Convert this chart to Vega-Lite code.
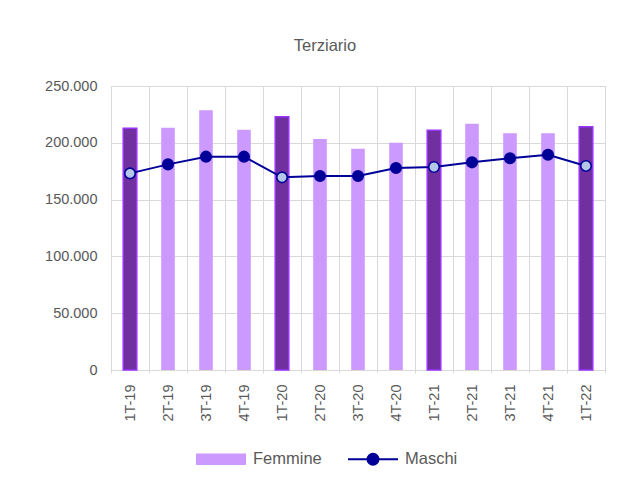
{
  "$schema": "https://vega.github.io/schema/vega-lite/v6.json",
  "width": 494,
  "height": 284,
  "autosize": "none",
  "padding": {"left": 111, "top": 86, "right": 30, "bottom": 127},
  "background": "white",
  "title": {
    "text": "Terziario",
    "font": "Liberation Sans",
    "fontSize": 16.5,
    "fontWeight": "normal",
    "color": "#595959",
    "anchor": "middle",
    "frame": "group",
    "dx": -33,
    "offset": 24
  },
  "config": {
    "font": "Liberation Sans",
    "view": {"stroke": "#D9D9D9", "strokeWidth": 1}
  },
  "data": {
    "values": [
      {"q": "1T-19", "serie": "Femmine", "v": 212700, "first": true},
      {"q": "2T-19", "serie": "Femmine", "v": 213300, "first": false},
      {"q": "3T-19", "serie": "Femmine", "v": 228600, "first": false},
      {"q": "4T-19", "serie": "Femmine", "v": 211500, "first": false},
      {"q": "1T-20", "serie": "Femmine", "v": 223000, "first": true},
      {"q": "2T-20", "serie": "Femmine", "v": 203300, "first": false},
      {"q": "3T-20", "serie": "Femmine", "v": 194800, "first": false},
      {"q": "4T-20", "serie": "Femmine", "v": 200100, "first": false},
      {"q": "1T-21", "serie": "Femmine", "v": 211000, "first": true},
      {"q": "2T-21", "serie": "Femmine", "v": 216800, "first": false},
      {"q": "3T-21", "serie": "Femmine", "v": 208400, "first": false},
      {"q": "4T-21", "serie": "Femmine", "v": 208400, "first": false},
      {"q": "1T-22", "serie": "Femmine", "v": 214200, "first": true},
      {"q": "1T-19", "serie": "Maschi", "v": 173100, "first": true},
      {"q": "2T-19", "serie": "Maschi", "v": 181000, "first": false},
      {"q": "3T-19", "serie": "Maschi", "v": 187800, "first": false},
      {"q": "4T-19", "serie": "Maschi", "v": 187800, "first": false},
      {"q": "1T-20", "serie": "Maschi", "v": 169600, "first": true},
      {"q": "2T-20", "serie": "Maschi", "v": 170800, "first": false},
      {"q": "3T-20", "serie": "Maschi", "v": 170800, "first": false},
      {"q": "4T-20", "serie": "Maschi", "v": 177800, "first": false},
      {"q": "1T-21", "serie": "Maschi", "v": 178700, "first": true},
      {"q": "2T-21", "serie": "Maschi", "v": 182800, "first": false},
      {"q": "3T-21", "serie": "Maschi", "v": 186400, "first": false},
      {"q": "4T-21", "serie": "Maschi", "v": 189500, "first": false},
      {"q": "1T-22", "serie": "Maschi", "v": 179600, "first": true}
    ]
  },
  "encoding": {
    "x": {
      "field": "q",
      "type": "ordinal",
      "sort": null,
      "scale": {"paddingInner": 0, "paddingOuter": 0},
      "axis": {
        "title": null,
        "labelAngle": -90,
        "labelFontSize": 14.5,
        "labelColor": "#595959",
        "tickBand": "extent",
        "grid": true,
        "gridColor": "#D9D9D9",
        "domainColor": "#D9D9D9",
        "tickColor": "#D9D9D9",
        "tickSize": 3,
        "labelPadding": 11
      }
    },
    "y": {
      "field": "v",
      "type": "quantitative",
      "scale": {"domain": [0, 250000], "nice": false},
      "axis": {
        "title": null,
        "values": [0, 50000, 100000, 150000, 200000, 250000],
        "labelExpr": "replace(format(datum.value, ','), ',', '.')",
        "labelFontSize": 14.5,
        "labelColor": "#595959",
        "grid": true,
        "gridColor": "#D9D9D9",
        "domainColor": "#D9D9D9",
        "ticks": false,
        "labelPadding": 14
      }
    }
  },
  "layer": [
    {
      "transform": [{"filter": "datum.serie === 'Femmine'"}],
      "mark": {"type": "bar", "size": 13.6, "strokeWidth": 1.5},
      "encoding": {
        "color": {
          "field": "serie",
          "type": "nominal",
          "scale": {"domain": ["Femmine", "Maschi"], "range": ["#CC99FF", "#000099"]},
          "condition": {"test": "datum.first", "value": "#7030A0"},
          "legend": {
            "orient": "none",
            "legendX": 84,
            "legendY": 347,
            "direction": "horizontal",
            "title": null,
            "labelFontSize": 16.5,
            "labelColor": "#595959",
            "labelOffset": 6,
            "columnPadding": 22,
            "symbolSize": 2500,
            "symbolStrokeWidth": 2,
            "symbolType": {"expr": "datum.value === 'Femmine' ? 'M-1,-0.23H1V0.23H-1Z' : 'M-1,0H1M-0.22,0A0.22,0.22,0,1,1,0.22,0A0.22,0.22,0,1,1,-0.22,0Z'"},
            "symbolFillColor": {"expr": "datum.value === 'Femmine' ? '#CC99FF' : '#000099'"},
            "symbolStrokeColor": {"expr": "datum.value === 'Femmine' ? 'transparent' : '#000099'"},
            "symbolOpacity": 1
          }
        },
        "stroke": {"condition": {"test": "datum.first", "value": "#9933FF"}, "value": "transparent"}
      }
    },
    {
      "transform": [{"filter": "datum.serie === 'Maschi'"}],
      "mark": {"type": "line", "strokeWidth": 2, "color": "#000099"},
      "encoding": {}
    },
    {
      "transform": [{"filter": "datum.serie === 'Maschi'"}],
      "mark": {"type": "point", "filled": true, "size": 110, "strokeWidth": 1.6, "opacity": 1, "shape": "circle"},
      "encoding": {
        "fill": {"condition": {"test": "datum.first", "value": "#B4C7E7"}, "value": "#000099"},
        "stroke": {"value": "#000099"}
      }
    }
  ]
}
